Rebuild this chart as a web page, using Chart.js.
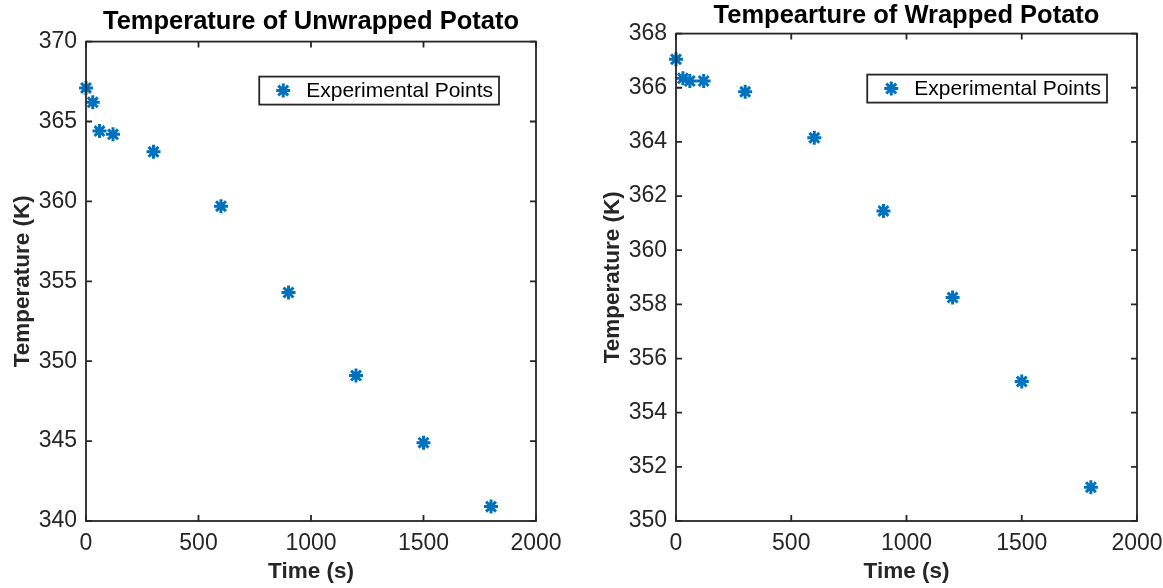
<!DOCTYPE html>
<html>
<head>
<meta charset="utf-8">
<script src="https://cdn.jsdelivr.net/npm/chart.js@4.4.1/dist/chart.umd.min.js"></script>
<style>
  html, body { margin: 0; padding: 0; background: #ffffff; }
  #wrap { position: relative; width: 1163px; height: 588px; overflow: hidden; background: #fff; }
  .pane { position: absolute; top: 0; }
</style>
</head>
<body>
<div id="wrap">
  <div class="pane" style="left:0px;"><canvas id="c1" width="581" height="588"></canvas></div>
  <div class="pane" style="left:581px;"><canvas id="c2" width="582" height="588"></canvas></div>
</div>
<script>
// ---- data ----
const timeSeconds = [0, 30, 60, 120, 300, 600, 900, 1200, 1500, 1800];
const unwrappedTemps = [367.1, 366.2, 364.4, 364.2, 363.1, 359.7, 354.3, 349.1, 344.9, 340.9];
const wrappedTemps = [367.05, 366.35, 366.25, 366.25, 365.85, 364.15, 361.45, 358.25, 355.15, 351.25];
const xTicks = [0, 500, 1000, 1500, 2000];
const unwrappedYTicks = [340, 345, 350, 355, 360, 365, 370];
const wrappedYTicks = [350, 352, 354, 356, 358, 360, 362, 364, 366, 368];
const titleLeft = 'Temperature of Unwrapped Potato';
const titleRight = 'Tempearture of Wrapped Potato';
const xLabel = 'Time (s)';
const yLabel = 'Temperature (K)';
const seriesLabel = 'Experimental Points';

const FONT = '"Liberation Sans", Arial, Helvetica, sans-serif';
const AXIS_COLOR = '#262626';
const MARKER_COLOR = '#0072BD';

// Box + inward ticks like MATLAB axes
const boxPlugin = {
  id: 'matlabBox',
  afterDatasetsDraw(chart) {
    const {ctx, chartArea: a, scales} = chart;
    ctx.save();
    ctx.strokeStyle = AXIS_COLOR;
    ctx.lineWidth = 1.8;
    ctx.strokeRect(a.left, a.top, a.right - a.left, a.bottom - a.top);
    const tl = 6;
    ctx.beginPath();
    scales.x.ticks.forEach((t, i) => {
      const px = scales.x.getPixelForTick(i);
      ctx.moveTo(px, a.bottom); ctx.lineTo(px, a.bottom - tl);
      ctx.moveTo(px, a.top); ctx.lineTo(px, a.top + tl);
    });
    scales.y.ticks.forEach((t, i) => {
      const py = scales.y.getPixelForTick(i);
      ctx.moveTo(a.left, py); ctx.lineTo(a.left + tl, py);
      ctx.moveTo(a.right, py); ctx.lineTo(a.right - tl, py);
    });
    ctx.stroke();
    ctx.restore();
  }
};

// Legend drawn inside the plot area
const insetLegendPlugin = {
  id: 'insetLegend',
  afterDraw(chart, args, opts) {
    const {ctx, chartArea: a} = chart;
    const ds = chart.data.datasets[0];
    ctx.save();
    ctx.font = '21px ' + FONT;
    const tw = ctx.measureText(ds.label).width;
    const w = 47 + tw + 6;
    const h = 28;
    const x = a.right - opts.rightOffset - w;
    const y = a.top + opts.topOffset;
    ctx.fillStyle = '#ffffff';
    ctx.fillRect(x, y, w, h);
    ctx.strokeStyle = AXIS_COLOR;
    ctx.lineWidth = 1.8;
    ctx.strokeRect(x, y, w, h);
    ctx.strokeStyle = ds.borderColor;
    ctx.fillStyle = ds.backgroundColor;
    ctx.lineWidth = ds.pointBorderWidth;
    Chart.helpers.drawPoint(ctx, {pointStyle: 'star', radius: ds.pointRadius, borderWidth: ds.pointBorderWidth, rotation: 0}, x + 24, y + h / 2);
    ctx.fillStyle = '#000000';
    ctx.textBaseline = 'middle';
    ctx.textAlign = 'left';
    ctx.fillText(ds.label, x + 47, y + h / 2 + 1);
    ctx.restore();
  }
};

function makeChart(id, title, temps, yTicks, cfg) {
  const data = timeSeconds.map((t, i) => ({x: t, y: temps[i]}));
  return new Chart(document.getElementById(id), {
    type: 'scatter',
    data: {
      datasets: [{
        label: seriesLabel,
        data: data,
        pointStyle: 'star',
        pointRadius: 7,
        pointHoverRadius: 7,
        pointBorderWidth: 3,
        borderColor: MARKER_COLOR,
        backgroundColor: MARKER_COLOR,
        showLine: false,
        clip: false
      }]
    },
    options: {
      responsive: false,
      animation: false,
      events: [],
      layout: {padding: {left: 0, right: cfg.padRight, top: 0, bottom: 0}},
      plugins: {
        legend: {display: false},
        tooltip: {enabled: false},
        title: {
          display: true,
          fullSize: false,
          text: title,
          color: '#000000',
          font: {family: FONT, size: 25.5, weight: 'bold'},
          padding: {top: cfg.titleTop, bottom: cfg.titleBottom}
        },
        insetLegend: {rightOffset: cfg.legendRight, topOffset: cfg.legendTop}
      },
      scales: {
        x: {
          type: 'linear',
          min: xTicks[0],
          max: xTicks[xTicks.length - 1],
          afterBuildTicks: s => { s.ticks = xTicks.map(v => ({value: v})); },
          afterFit: s => { s.height = 67; s.paddingLeft = 0; s.paddingRight = 0; },
          grid: {display: false, drawTicks: false},
          border: {display: false},
          ticks: {color: AXIS_COLOR, font: {family: FONT, size: 23}, padding: 9, maxRotation: 0, callback: v => String(v)},
          title: {display: true, text: xLabel, color: AXIS_COLOR, font: {family: FONT, size: 22.5, weight: 'bold'}, padding: {top: 0, bottom: 3}}
        },
        y: {
          type: 'linear',
          min: yTicks[0],
          max: yTicks[yTicks.length - 1],
          afterBuildTicks: s => { s.ticks = yTicks.map(v => ({value: v})); },
          afterFit: s => { s.width = cfg.yWidth; s.paddingTop = 0; s.paddingBottom = 0; },
          grid: {display: false, drawTicks: false},
          border: {display: false},
          ticks: {color: AXIS_COLOR, font: {family: FONT, size: 23}, padding: 9, callback: v => String(v)},
          title: {display: true, text: yLabel, color: AXIS_COLOR, font: {family: FONT, size: 22.5, weight: 'bold'}, padding: {top: cfg.yTitlePad, bottom: 0}}
        }
      }
    },
    plugins: [boxPlugin, insetLegendPlugin]
  });
}

makeChart('c1', titleLeft, unwrappedTemps, unwrappedYTicks,
  {padRight: 45, titleTop: 7, titleBottom: 4, yWidth: 86, yTitlePad: 9, legendRight: 37, legendTop: 35});
makeChart('c2', titleRight, wrappedTemps, wrappedYTicks,
  {padRight: 26, titleTop: 1, titleBottom: 2, yWidth: 95, yTitlePad: 18, legendRight: 30, legendTop: 41});
</script>
</body>
</html>
